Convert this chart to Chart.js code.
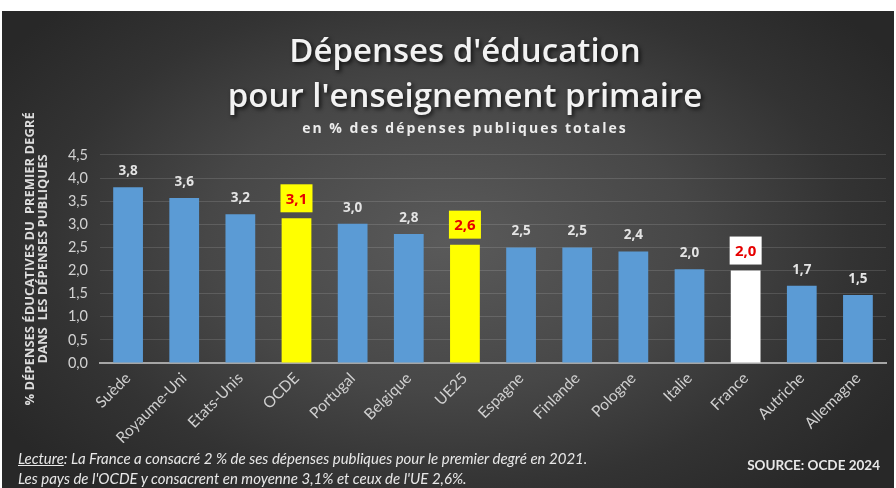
<!DOCTYPE html>
<html><head><meta charset="utf-8">
<script src="https://cdn.jsdelivr.net/npm/chart.js@4/dist/chart.umd.min.js"></script>
<style>
html,body{margin:0;padding:0;background:#fff;width:896px;height:488px;overflow:hidden;}
#bg{position:absolute;left:2px;top:11px;width:892px;height:477px;
background:radial-gradient(ellipse 60% 70% at 50% 48%, #5a5a5a 0%, #474747 45%, #333 75%, #282828 100%);}
#wrap{position:absolute;left:0;top:0;width:896px;height:488px;}
.foot{position:absolute;font-family:Lato,"Open Sans",sans-serif;color:#e8e8e8;white-space:nowrap;}
#l1{left:18px;top:449px;font-style:italic;font-size:15px;}
#l2{left:18px;top:469px;font-style:italic;font-size:15px;}
#src{right:16px;top:457px;font-weight:bold;font-size:13.5px;}
</style></head>
<body>
<div id="bg"></div>
<div id="wrap"><canvas id="c" width="896" height="488"></canvas></div>
<div class="foot" id="l1"><u>Lecture</u>: La France a consacré 2 % de ses dépenses publiques pour le premier degré en 2021.</div>
<div class="foot" id="l2">Les pays de l'OCDE y consacrent en moyenne 3,1% et ceux de l'UE 2,6%.</div>
<div class="foot" id="src">SOURCE: OCDE 2024</div>
<script>
const categories = ["Suède","Royaume-Uni","Etats-Unis","OCDE","Portugal","Belgique","UE25","Espagne","Finlande","Pologne","Italie","France","Autriche","Allemagne"];
const values = [3.8,3.57,3.22,3.13,3.01,2.79,2.56,2.5,2.5,2.41,2.03,2.0,1.67,1.47];
const highlight = ["", "", "", "yellow", "", "", "yellow", "", "", "", "", "white", "", ""];
const yTicks = [0,0.5,1,1.5,2,2.5,3,3.5,4,4.5];
const titleLines = ["Dépenses d'éducation","pour l'enseignement primaire"];
const subtitleText = "en % des dépenses publiques totales";
const yTitleLines = ["% DÉPENSES ÉDUCATIVES DU  PREMIER DEGRÉ","DANS  LES DÉPENSES PUBLIQUES"];

const BLUE = "#5b9bd5";
const barColors = highlight.map(h => h === "yellow" ? "#ffff00" : (h === "white" ? "#ffffff" : BLUE));
const fmt = v => v.toFixed(1).replace('.', ',');

// text styling helper: letter spacing for the subtitle, drop shadow for the title
const textStylePlugin = {
  id: 'textStyle',
  beforeDraw(chart) {
    const ctx = chart.ctx;
    if (ctx._patched) return;
    ctx._patched = true;
    const orig = ctx.fillText.bind(ctx);
    ctx.fillText = function (t, x, y, mw) {
      if (t === subtitleText) {
        const ls = ctx.letterSpacing;
        ctx.letterSpacing = '2px';
        orig(t, x, y);
        ctx.letterSpacing = ls;
      } else if (titleLines.includes(t)) {
        ctx.save();
        ctx.shadowColor = 'rgba(0,0,0,0.75)';
        ctx.shadowBlur = 4;
        ctx.shadowOffsetX = 2;
        ctx.shadowOffsetY = 2;
        orig(t, x, y);
        ctx.restore();
      } else if (mw !== undefined) {
        orig(t, x, y, mw);
      } else {
        orig(t, x, y);
      }
    };
  }
};

const labelPlugin = {
  id: 'valueLabels',
  afterDatasetsDraw(chart) {
    const ctx = chart.ctx;
    const meta = chart.getDatasetMeta(0);
    meta.data.forEach((bar, i) => {
      const txt = fmt(values[i]);
      const x = bar.x, top = bar.y;
      ctx.save();
      ctx.textAlign = 'center';
      ctx.textBaseline = 'middle';
      if (highlight[i]) {
        const w = 32, h = 28;
        ctx.fillStyle = highlight[i] === 'yellow' ? '#ffff00' : '#ffffff';
        ctx.fillRect(x - w/2, top - 6 - h, w, h);
        ctx.fillStyle = '#e60000';
        ctx.font = 'bold 15px "Open Sans", sans-serif';
        ctx.fillText(txt, x, top - 6 - h/2 + 1);
      } else {
        ctx.fillStyle = '#e4e4e4';
        ctx.font = 'bold 13.5px "Open Sans", sans-serif';
        ctx.fillText(txt, x, top - 16);
      }
      ctx.restore();
    });
  }
};

new Chart(document.getElementById('c'), {
  type: 'bar',
  data: {
    labels: categories,
    datasets: [{
      data: values,
      backgroundColor: barColors,
      borderWidth: 0,
      barPercentage: 0.53,
      categoryPercentage: 1.0
    }]
  },
  options: {
    responsive: false,
    animation: false,
    layout: { padding: { left: 44, right: 10, top: 0, bottom: 45 } },
    plugins: {
      legend: { display: false },
      tooltip: { enabled: false },
      title: {
        display: true,
        text: titleLines,
        color: '#f2f2f2',
        font: { family: '"Open Sans", sans-serif', size: 33, weight: '600', lineHeight: 1.36 },
        padding: { top: 30, bottom: 0 }
      },
      subtitle: {
        display: true,
        text: subtitleText,
        color: '#ececec',
        font: { family: '"Open Sans", sans-serif', size: 14, weight: 'bold', lineHeight: 1.2 },
        padding: { top: 1, bottom: 17.4 }
      }
    },
    scales: {
      x: {
        grid: { display: false, drawTicks: false },
        border: { display: true, color: '#a6a6a6', width: 2 },
        ticks: {
          color: '#cfcfcf',
          font: { family: 'Lato, sans-serif', size: 15.5 },
          minRotation: 45, maxRotation: 45,
          padding: 6
        },
        afterFit(s) { s.height = 80; }
      },
      y: {
        min: 0, max: 4.5,
        afterBuildTicks(s) { s.ticks = yTicks.map(v => ({ value: v })); },
        grid: { color: 'rgba(255,255,255,0.13)', lineWidth: 1, drawTicks: false },
        border: { display: false },
        ticks: {
          color: '#d2d2d2',
          font: { family: 'Lato, sans-serif', size: 14.5 },
          padding: 12,
          callback: v => fmt(v)
        },
        title: {
          display: true,
          text: yTitleLines,
          color: '#dcdcdc',
          font: { family: '"Open Sans", sans-serif', size: 13, weight: 'bold', lineHeight: 1.05 },
          padding: { top: -21, bottom: 0 }
        },
        afterFit(s) { s.width = 56; }
      }
    }
  },
  plugins: [textStylePlugin, labelPlugin]
});
</script>
</body></html>
